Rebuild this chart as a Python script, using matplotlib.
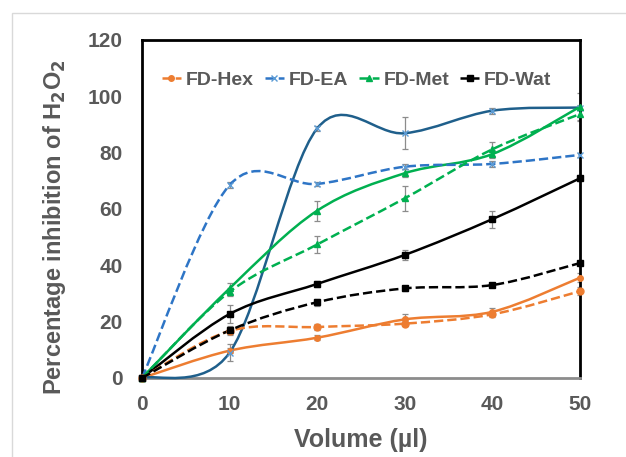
import numpy as np
from matplotlib import pyplot as plt
from matplotlib.path import Path
from matplotlib.patches import PathPatch, Rectangle
from matplotlib.lines import Line2D

plt.rcParams['font.family'] = ['Liberation Sans', 'DejaVu Sans']
plt.rcParams['font.weight'] = 'bold'
plt.rcParams['mathtext.default'] = 'bf'

volume = [0, 10, 20, 30, 40, 50]

# dashed series (in legend)
hex_d = [0, 16.7, 18.1, 19.3, 22.6, 30.8]
ea_d = [0, 68.5, 68.9, 75.0, 76.0, 79.2]
met_d = [0, 30.6, 47.4, 63.8, 81.2, 93.7]
wat_d = [0, 16.9, 26.9, 31.8, 33.0, 40.8]

# solid series
hex_s = [0, 9.7, 14.3, 20.8, 23.5, 35.6]
ea_s = [0, 9.0, 88.6, 86.9, 94.9, 96.0]
met_s = [0, 31.8, 59.4, 72.7, 79.5, 96.3]
wat_s = [0, 22.7, 33.4, 43.7, 56.4, 70.9]

# error bars
hex_d_err = [0, 1.0, 1.0, 1.0, 1.0, 1.5]
ea_d_err = [0, 1.0, 0.8, 0.8, 1.2, 0.8]
met_d_err = [0, 1.5, 3.0, 4.5, 2.5, 2.0]
wat_d_err = [0, 1.5, 1.2, 0.8, 0.8, 0.8]
hex_s_err = [0, 1.0, 0.8, 1.8, 1.2, 1.5]
ea_s_err = [0, 3.0, 0.8, 5.7, 1.0, 1.0]
met_s_err = [0, 2.0, 3.5, 1.5, 1.5, 5.0]
wat_s_err = [0, 3.2, 1.0, 1.8, 3.0, 1.0]

ORANGE = '#ED7D31'
BLUE = '#2E75C6'
NAVY = '#1F5F8B'
GREEN = '#00B050'
BLACK = '#000000'
GRAY = '#595959'


def smooth_path(ax, x, y, f=1 / 6):
    # Excel-like smoothed line, control points worked out in pixel space
    pts = ax.transData.transform(np.column_stack([x, y]).astype(float))
    n = len(pts)
    verts = [pts[0]]
    codes = [Path.MOVETO]
    for i in range(n - 1):
        p0 = pts[max(i - 1, 0)]
        p1 = pts[i]
        p2 = pts[i + 1]
        p3 = pts[min(i + 2, n - 1)]
        seg = np.linalg.norm(p2 - p1)
        t1 = (p2 - p0) * f
        t2 = (p3 - p1) * f
        for t in (t1, t2):
            ln = np.linalg.norm(t)
            if ln > seg / 2:
                t *= (seg / 2) / ln
        verts += [p1 + t1, p2 - t2, p2]
        codes += [Path.CURVE4] * 3
    verts = ax.transData.inverted().transform(np.array(verts))
    return Path(verts, codes)


fig = plt.figure(figsize=(6.26, 4.57), dpi=100)
ax = fig.add_axes([0.2268, 0.1729, 0.6997, 0.7396])
ax.set_xlim(0, 50)
ax.set_ylim(0, 120)

series = [
    (hex_s, hex_s_err, ORANGE, '-', 'o', ORANGE, 4),
    (ea_s, ea_s_err, NAVY, '-', 'x', '#5B9BD5', 4),
    (met_s, met_s_err, GREEN, '-', '^', GREEN, 4),
    (wat_s, wat_s_err, BLACK, '-', 's', BLACK, 5),
    (hex_d, hex_d_err, ORANGE, '--', 'o', ORANGE, 5),
    (ea_d, ea_d_err, BLUE, '--', 'x', '#5B9BD5', 4),
    (met_d, met_d_err, GREEN, '--', '^', GREEN, 4),
    (wat_d, wat_d_err, BLACK, '--', 's', BLACK, 5),
]

for y, err, color, ls, mk, mcol, ms in series:
    ax.errorbar(volume, y, yerr=err, fmt='none', ecolor='#8C8C8C',
                elinewidth=0.9, capsize=2.5, capthick=0.9, zorder=2)
    patch = PathPatch(smooth_path(ax, volume, y), facecolor='none',
                      edgecolor=color, linewidth=1.8, linestyle=ls,
                      zorder=3, clip_on=False)
    ax.add_patch(patch)
    ax.plot(volume, y, linestyle='none', marker=mk, color=mcol,
            markersize=ms, markeredgewidth=1.0, zorder=4, clip_on=False)

ax.set_xlim(0, 50)
ax.set_ylim(0, 120)
ax.set_xticks(volume)
ax.set_yticks(range(0, 121, 20))
ax.tick_params(axis='both', length=0, labelsize=15, colors=GRAY, pad=12)
ax.tick_params(axis='y', pad=14)
for lab in ax.get_xticklabels() + ax.get_yticklabels():
    lab.set_fontweight('bold')

for side in ['left', 'right', 'top']:
    ax.spines[side].set_color(BLACK)
    ax.spines[side].set_linewidth(2.0)
ax.spines['bottom'].set_color('#8C8C8C')
ax.spines['bottom'].set_linewidth(2.0)

ax.set_xlabel('Volume (µl)', fontsize=18, fontweight='bold', color=GRAY,
              labelpad=10)
ax.set_ylabel('Percentage inhibition of H$_\\mathbf{2}$O$_\\mathbf{2}$',
              fontsize=17, fontweight='bold', color=GRAY)
ax.yaxis.set_label_coords(-0.17, 0.447)

handles = [
    Line2D([], [], color=ORANGE, ls='--', lw=1.8, marker='o', ms=4),
    Line2D([], [], color=BLUE, ls='--', lw=1.8, marker='x', ms=4,
           markeredgecolor='#5B9BD5'),
    Line2D([], [], color=GREEN, ls='--', lw=1.8, marker='^', ms=4),
    Line2D([], [], color=BLACK, ls='--', lw=1.8, marker='s', ms=4),
]
leg = ax.legend(handles, ['FD-Hex', 'FD-EA', 'FD-Met', 'FD-Wat'],
                loc='upper center', bbox_to_anchor=(0.49, 0.96), ncol=4,
                frameon=False, fontsize=14, handlelength=1.0,
                handletextpad=0.25, columnspacing=0.55)
for t in leg.get_texts():
    t.set_color(GRAY)
    t.set_fontweight('bold')

# faint outer frame of the original figure
fig.add_artist(Rectangle((12 / 626, -0.01), 1.2, 1 - 13 / 457 + 0.01,
                         transform=fig.transFigure, fill=False,
                         edgecolor='#D9D9D9', linewidth=1.0))

fig.savefig('out.png', dpi=100)
